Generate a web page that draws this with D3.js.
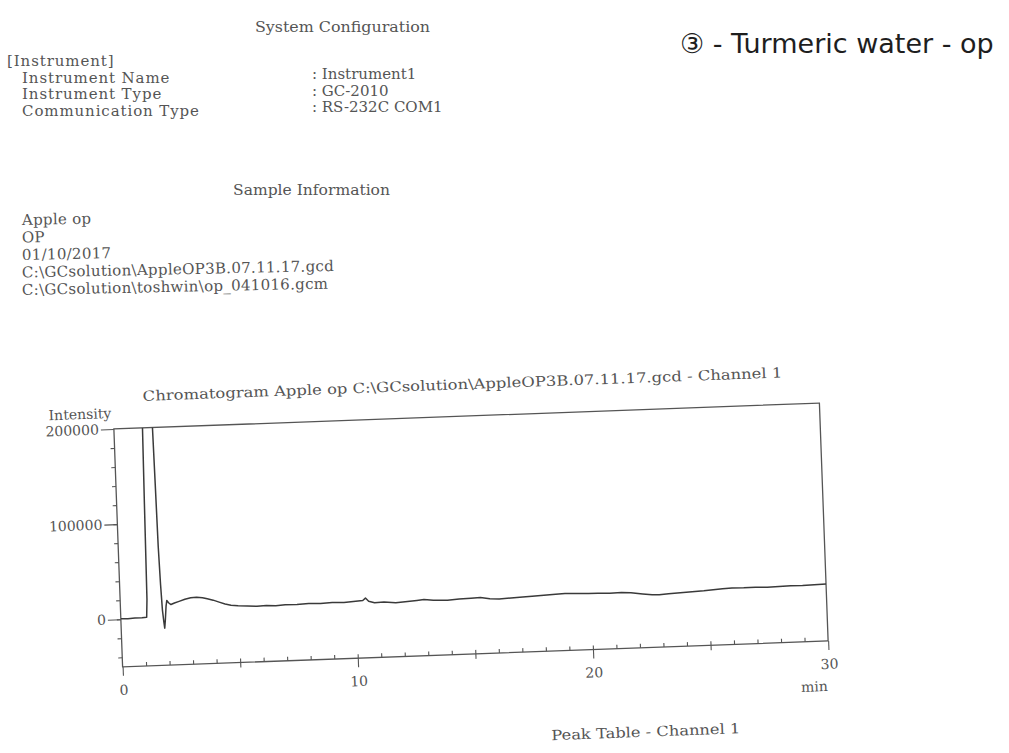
<!DOCTYPE html>
<html>
<head>
    <meta charset="utf-8">
    <title>Chromatogram Apple op</title>
    <script src="https://d3js.org/d3.v7.min.js"></script>
    <style>
        body { margin: 0; background: #ffffff; }
        text { font-family: "DejaVu Serif", serif; fill: #555; }
        .axis text { font-size: 14px; fill: #555; font-family: "DejaVu Serif", serif; }
        .axis line { stroke: #555; stroke-width: 1.1; }
        .axis path { display: none; }
    </style>
</head>
<body>
<div id="chart"></div>
<script>
    // header text
    var sysTitle = "System Configuration";
    var instrLabels = ["[Instrument]", "Instrument Name", "Instrument Type", "Communication Type"];
    var instrValues = [": Instrument1", ": GC-2010", ": RS-232C COM1"];
    var sampleTitle = "Sample Information";
    var sampleLines = ["Apple op", "OP", "01/10/2017",
        "C:\\GCsolution\\AppleOP3B.07.11.17.gcd",
        "C:\\GCsolution\\toshwin\\op_041016.gcm"];
    var handNote = "\u2462 - Turmeric water - op";
    var chartTitle = "Chromatogram Apple op C:\\GCsolution\\AppleOP3B.07.11.17.gcd - Channel 1";
    var peakTitle = "Peak Table - Channel 1";

    // axes
    var xTicks = [0, 10, 20, 30];
    var yTicks = [0, 100000, 200000];
    var xDomain = [0, 30];
    var yDomain = [-50000, 200000];

    // trace (min, intensity)
    var times = [0.00, 0.30, 0.60, 0.90, 1.10, 1.14, 1.18, 1.23, 1.40, 1.58, 1.64, 1.67, 1.70, 1.74, 1.78,
        1.82, 1.85, 1.89, 1.94, 1.98, 2.05, 2.15, 2.30, 2.50, 2.75, 3.00, 3.25, 3.50, 3.70, 3.95,
        4.20, 4.45, 4.70, 5.00, 5.40, 5.80, 6.20, 6.60, 7.00, 7.50, 8.00, 8.50, 9.00, 9.50, 10.00,
        10.30, 10.42, 10.55, 10.80, 11.20, 11.70, 12.20, 12.60, 12.90, 13.30, 13.90, 14.40, 14.90, 15.30,
        15.70, 16.10, 16.60, 17.10, 17.50, 18.00, 18.50, 18.90, 19.40, 19.90, 20.30, 20.80, 21.30, 21.70,
        22.20, 22.60, 22.90, 23.30, 23.80, 24.30, 24.80, 25.20, 25.60, 26.00, 26.50, 27.00, 27.50, 28.00,
        28.50, 29.00, 29.50, 30.00];
    var intensity = [500, 300, 700, 800, 1200, 20000, 120000, 230000, 900000, 300000, 200000, 140000, 75000, 35000, 8000,
        -4000, -11000, -2000, 12000, 18000, 15500, 13500, 15000, 16500, 18500, 19800, 20200, 19500, 18200, 16500,
        14200, 12000, 10500, 9600, 9000, 8400, 8800, 8300, 8900, 8600, 9200, 8800, 9500, 9100, 9800,
        10300, 12800, 9400, 7600, 7900, 6800, 7600, 8400, 9000, 8000, 7400, 8200, 8600, 9000,
        7200, 6600, 7400, 7800, 8200, 8900, 9600, 9900, 9400, 9100, 8900, 8600, 8900, 8300,
        6500, 5200, 5000, 5800, 6300, 6800, 7400, 8200, 8900, 9300, 9000, 9200, 8800, 9000,
        9300, 9100, 9600, 9800];

    var W = 1009, H = 753;
    var svg = d3.select("#chart").append("svg")
        .attr("width", W)
        .attr("height", H);

    // ---- header block (printed page) ----
    var head = svg.append("g").style("font-size", "15px");

    head.append("text").attr("x", 255).attr("y", 32)
        .attr("textLength", 175).attr("lengthAdjust", "spacingAndGlyphs")
        .text(sysTitle);

    head.selectAll("text.lab").data(instrLabels).enter().append("text")
        .attr("class", "lab")
        .attr("x", function (d, i) { return i == 0 ? 7 : 22; })
        .attr("y", function (d, i) { return 66 + i * 16.7; })
        .style("letter-spacing", "0.9px")
        .text(function (d) { return d; });

    head.selectAll("text.val").data(instrValues).enter().append("text")
        .attr("class", "val")
        .attr("x", 312)
        .attr("y", function (d, i) { return 79 + i * 16.5; })
        .style("letter-spacing", "0px")
        .text(function (d) { return d; });

    head.append("text").attr("x", 233).attr("y", 195)
        .attr("textLength", 157).attr("lengthAdjust", "spacingAndGlyphs")
        .text(sampleTitle);

    head.selectAll("text.smp").data(sampleLines).enter().append("text")
        .attr("class", "smp")
        .attr("x", 22)
        .attr("y", function (d, i) { return 225 + i * 17.5; })
        .attr("transform", function (d, i) { return "rotate(-1.2,22," + (225 + i * 17.5) + ")"; })
        .style("letter-spacing", "0.3px")
        .text(function (d) { return d; });

    // handwritten note
    svg.append("text")
        .attr("x", 680).attr("y", 53)
        .style("font-family", "'DejaVu Sans', sans-serif")
        .style("font-size", "27px")
        .style("fill", "#1e1e1e")
        .text(handNote);

    // ---- chromatogram (scan is tilted about 2 degrees) ----
    var margin = { top: 416, left: 118 },
        width = 706,
        height = 238;

    var page = svg.append("g").attr("transform", "rotate(-2.1,470,535)");

    var x = d3.scaleLinear().domain(xDomain).range([margin.left, margin.left + width]);
    var y = d3.scaleLinear().domain(yDomain).range([margin.top + height, margin.top]);

    page.append("text")
        .attr("x", 148).attr("y", 389)
        .attr("textLength", 640).attr("lengthAdjust", "spacingAndGlyphs")
        .style("font-size", "14px")
        .text(chartTitle);

    page.append("defs").append("clipPath").attr("id", "plotclip")
        .append("rect")
        .attr("x", margin.left).attr("y", margin.top)
        .attr("width", width).attr("height", height);

    // frame
    page.append("rect")
        .attr("x", margin.left).attr("y", margin.top)
        .attr("width", width).attr("height", height)
        .style("fill", "none")
        .style("stroke", "#555")
        .style("stroke-width", 1.3);

    // y axis
    page.append("g").attr("class", "axis")
        .attr("transform", "translate(" + margin.left + ",0)")
        .call(d3.axisLeft(y).tickValues(yTicks).tickSize(13).tickPadding(2).tickFormat(d3.format("d")));
    page.append("g").attr("class", "axis")
        .attr("transform", "translate(" + margin.left + ",0)")
        .call(d3.axisLeft(y).tickValues(d3.range(-40000, 200000, 20000)).tickSize(4).tickFormat(""));

    // x axis
    page.append("g").attr("class", "axis")
        .attr("transform", "translate(0," + (margin.top + height) + ")")
        .call(d3.axisBottom(x).tickValues(xTicks).tickSize(9).tickPadding(9).tickFormat(d3.format("d")));
    page.append("g").attr("class", "axis")
        .attr("transform", "translate(0," + (margin.top + height) + ")")
        .call(d3.axisBottom(x).tickValues(d3.range(1, 30, 1)).tickSize(-4).tickFormat(""));
    page.append("g").attr("class", "axis")
        .attr("transform", "translate(0," + (margin.top + height) + ")")
        .call(d3.axisBottom(x).tickValues([5, 15, 25]).tickSize(5).tickFormat(""));

    // axis titles
    page.append("text")
        .attr("text-anchor", "end")
        .attr("x", margin.left - 2).attr("y", margin.top - 11)
        .style("font-size", "14px")
        .text("Intensity");
    page.append("text")
        .attr("text-anchor", "end")
        .attr("x", x(30) - 2).attr("y", margin.top + height + 50)
        .style("font-size", "14px")
        .text("min");

    // trace
    var points = times.map(function (t, i) { return [t, intensity[i]]; });
    var valueline = d3.line()
        .x(function (d) { return x(d[0]); })
        .y(function (d) { return y(d[1]); });

    page.append("path")
        .datum(points)
        .attr("clip-path", "url(#plotclip)")
        .attr("d", valueline)
        .style("fill", "none")
        .style("stroke", "#3a3a3a")
        .style("stroke-width", 1.5)
        .style("stroke-linejoin", "round");

    page.append("text")
        .attr("x", 544).attr("y", 743)
        .attr("textLength", 189).attr("lengthAdjust", "spacingAndGlyphs")
        .style("font-size", "14px")
        .text(peakTitle);
</script>
</body>
</html>
